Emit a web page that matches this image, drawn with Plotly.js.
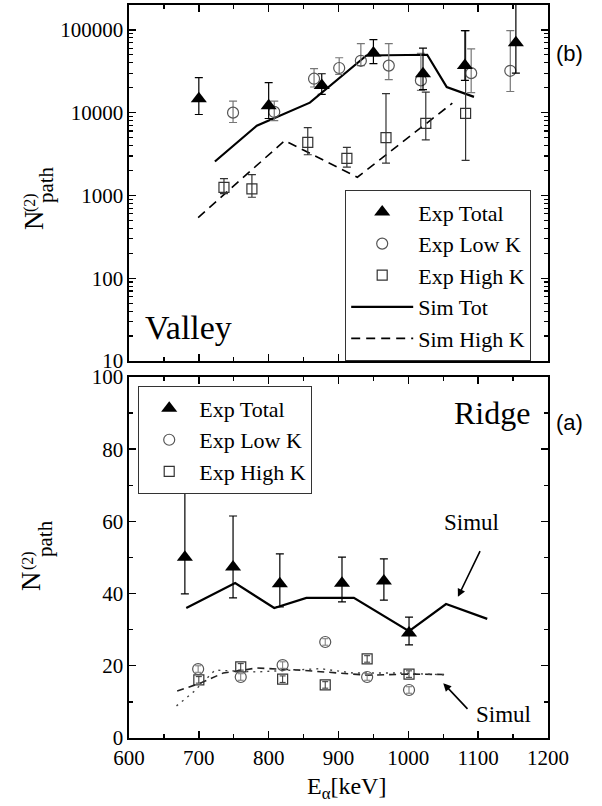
<!DOCTYPE html>
<html>
<head>
<meta charset="utf-8">
<script src="https://cdn.plot.ly/plotly-3.0.1.min.js"></script>
<style>html,body{margin:0;padding:0;background:#fff}</style>
</head>
<body>
<div id="chart" style="width:602px;height:806px"></div>
<script>
// ---- Valley panel (b), log scale ----
const valleyTotE  = [700, 800, 876, 950, 1021, 1081, 1154];
const valleyTot   = [14700, 12100, 21300, 52600, 29500, 37000, 70000];
const valleyTotHi = [26500, 23000, 29500, 76000, 60000, 98000, 250000];
const valleyTotLo = [9500, 8500, 16600, 39000, 19000, 24500, 30000];

const valleyLowE  = [749, 808, 865, 901, 932, 972, 1018, 1090, 1146];
const valleyLow   = [10000, 10200, 25700, 34600, 42300, 37000, 24500, 30000, 32000];
const valleyLowHi = [13800, 13800, 34000, 46000, 68000, 68000, 52000, 59000, 98000];
const valleyLowLo = [7600, 8000, 20400, 29000, 37000, 25000, 18600, 17400, 18000];

const valleyHighE  = [736, 776, 856, 912, 968, 1025, 1082];
const valleyHigh   = [1250, 1200, 4370, 2800, 5000, 7400, 9800];
const valleyHighHi = [1600, 1780, 6600, 3800, 17000, 17700, 98000];
const valleyHighLo = [1050, 950, 3100, 2200, 2450, 4700, 2650];

const valleySimTotE  = [723, 783, 859, 940, 1027, 1055, 1094];
const valleySimTot   = [2570, 6950, 13200, 49000, 50000, 20400, 15500];
const valleySimHighE = [699, 823, 927, 1063];
const valleySimHigh  = [540, 4600, 1660, 13000];

// ---- Ridge panel (a), linear scale ----
const ridgeTotE  = [680, 749, 816, 905, 965, 1001];
const ridgeTot   = [50.1, 47.4, 42.7, 42.9, 43.5, 29.1];
const ridgeTotHi = [69.3, 61.5, 51.0, 50.1, 49.6, 33.5];
const ridgeTotLo = [39.9, 38.8, 36.3, 37.7, 38.2, 25.8];

const ridgeLowE  = [699, 760, 820, 881, 941, 1001];
const ridgeLow   = [19.1, 16.9, 20.2, 26.6, 16.9, 13.3];
const ridgeHighE = [700, 760, 820, 881, 941, 1001];
const ridgeHigh  = [16.1, 19.7, 16.3, 14.7, 21.9, 17.7];
const ridgeKErr  = 0.9;

const ridgeSimTotE  = [682, 752, 808, 854, 922, 1001, 1054, 1113];
const ridgeSimTot   = [36.0, 42.9, 36.0, 38.8, 38.8, 29.6, 37.1, 33.0];
const ridgeSimHighE = [669, 702, 735, 783, 845, 884, 941, 1000, 1053];
const ridgeSimHigh  = [13.0, 15.2, 18.0, 19.4, 18.8, 18.3, 17.4, 17.7, 17.6];
const ridgeSimLowE  = [668, 692, 723, 783, 874, 921, 988, 1053];
const ridgeSimLow   = [8.9, 12.7, 18.8, 18.3, 19.2, 18.0, 18.0, 17.5];

const xTickVals = [600, 700, 800, 900, 1000, 1100, 1200];

const SERIF = '"Liberation Serif", "Times New Roman", Times, serif';
const SANS = '"Liberation Sans", Arial, sans-serif';

// asymmetric error bars from upper / lower bounds
function errs(vals, hi, lo, color, thick) {
  return {
    type: 'data', symmetric: false,
    array: vals.map((v, i) => hi[i] - v),
    arrayminus: vals.map((v, i) => v - lo[i]),
    color: color, thickness: thick, width: 4
  };
}

const triMarker = {symbol: 'triangle-up', size: 14, color: '#000', line: {width: 0}};
const circMarker = {symbol: 'circle-open', size: 11, color: '#555', line: {width: 1.2}};
const sqMarker = {symbol: 'square-open', size: 10, color: '#333', line: {width: 1.2}};

const traces = [
  // valley simulations
  {x: valleySimTotE, y: valleySimTot, xaxis: 'x2', yaxis: 'y2', mode: 'lines', name: 'Sim Tot',
   line: {color: '#000', width: 2.2}, legend: 'legend', legendrank: 4},
  {x: valleySimHighE, y: valleySimHigh, xaxis: 'x2', yaxis: 'y2', mode: 'lines', name: 'Sim High K',
   line: {color: '#000', width: 1.6, dash: '9px,6px'}, legend: 'legend', legendrank: 5},
  // valley experiment
  {x: valleyHighE, y: valleyHigh, xaxis: 'x2', yaxis: 'y2', mode: 'markers', name: 'Exp High K',
   marker: sqMarker, error_y: errs(valleyHigh, valleyHighHi, valleyHighLo, '#333', 1.2),
   legend: 'legend', legendrank: 3},
  {x: valleyLowE, y: valleyLow, xaxis: 'x2', yaxis: 'y2', mode: 'markers', name: 'Exp Low K',
   marker: circMarker, error_y: errs(valleyLow, valleyLowHi, valleyLowLo, '#777', 1.2),
   legend: 'legend', legendrank: 2},
  {x: valleyTotE, y: valleyTot, xaxis: 'x2', yaxis: 'y2', mode: 'markers', name: 'Exp Total',
   marker: triMarker, error_y: errs(valleyTot, valleyTotHi, valleyTotLo, '#000', 1.2),
   legend: 'legend', legendrank: 1},

  // ridge simulations
  {x: ridgeSimTotE, y: ridgeSimTot, xaxis: 'x', yaxis: 'y', mode: 'lines', showlegend: false,
   line: {color: '#000', width: 2.2}},
  {x: ridgeSimHighE, y: ridgeSimHigh, xaxis: 'x', yaxis: 'y', mode: 'lines', showlegend: false,
   line: {color: '#222', width: 1.6, dash: '7px,5px'}},
  {x: ridgeSimLowE, y: ridgeSimLow, xaxis: 'x', yaxis: 'y', mode: 'lines', showlegend: false,
   line: {color: '#444', width: 1.4, dash: '2px,5px'}},
  // ridge experiment
  {x: ridgeHighE, y: ridgeHigh, xaxis: 'x', yaxis: 'y', mode: 'markers', name: 'Exp High K',
   marker: sqMarker, error_y: {type: 'constant', value: ridgeKErr, color: '#333', thickness: 1, width: 3},
   legend: 'legend2', legendrank: 3},
  {x: ridgeLowE, y: ridgeLow, xaxis: 'x', yaxis: 'y', mode: 'markers', name: 'Exp Low K',
   marker: circMarker, error_y: {type: 'constant', value: ridgeKErr, color: '#777', thickness: 1, width: 3},
   legend: 'legend2', legendrank: 2},
  {x: ridgeTotE, y: ridgeTot, xaxis: 'x', yaxis: 'y', mode: 'markers', name: 'Exp Total',
   marker: triMarker, error_y: errs(ridgeTot, ridgeTotHi, ridgeTotLo, '#000', 1.2),
   legend: 'legend2', legendrank: 1}
];

const axisCommon = {
  showline: true, linecolor: '#000', linewidth: 1.6, mirror: 'ticks',
  ticks: 'inside', ticklen: 7, tickwidth: 1.4, tickcolor: '#000',
  showgrid: false, zeroline: false,
  tickfont: {family: SERIF, size: 21, color: '#000'}
};

const legendCommon = {
  xanchor: 'left', yanchor: 'top', bgcolor: '#fff', bordercolor: '#333', borderwidth: 1.2,
  font: {family: SERIF, size: 22, color: '#000'}, tracegroupgap: 0
};

// rotated y-axis label: N with (2) stacked over the "path" index
function yLabel(x, y, text, size) {
  return {xref: 'paper', yref: 'paper', x: x, y: y, text: text, showarrow: false, textangle: -90,
          font: {family: SERIF, size: size, color: '#000'}, xanchor: 'center', yanchor: 'middle'};
}

const layout = {
  width: 602, height: 806,
  margin: {l: 129, r: 54, t: 5, b: 68},
  paper_bgcolor: '#fff', plot_bgcolor: '#fff',
  font: {family: SERIF, color: '#000'},
  showlegend: true,
  xaxis: Object.assign({}, axisCommon, {
    domain: [0, 1], anchor: 'y', range: [600, 1200], tickvals: xTickVals,
    minor: {dtick: 50, ticks: 'inside', ticklen: 4, tickwidth: 1.4, tickcolor: '#000', showgrid: false}
  }),
  yaxis: Object.assign({}, axisCommon, {
    domain: [0, 0.4925], anchor: 'x', range: [0, 100], dtick: 20, tick0: 0,
    minor: {dtick: 10, ticks: 'inside', ticklen: 4, tickwidth: 1.4, tickcolor: '#000', showgrid: false}
  }),
  xaxis2: Object.assign({}, axisCommon, {
    domain: [0, 1], anchor: 'y2', range: [600, 1200], tickvals: xTickVals, matches: 'x',
    showticklabels: false,
    minor: {dtick: 50, ticks: 'inside', ticklen: 4, tickwidth: 1.4, tickcolor: '#000', showgrid: false}
  }),
  yaxis2: Object.assign({}, axisCommon, {
    domain: [0.5143, 1], anchor: 'x2', type: 'log', range: [1, 5.3], dtick: 1,
    tickformat: 'd',
    minor: {dtick: 'D1', ticks: 'inside', ticklen: 4, tickwidth: 1.2, tickcolor: '#000', showgrid: false}
  }),
  legend: Object.assign({}, legendCommon, {x: 0.5155, y: 0.7476, itemwidth: 62}),
  legend2: Object.assign({}, legendCommon, {x: 0.0215, y: 0.480, itemwidth: 50}),
  annotations: [
    {xref: 'paper', yref: 'paper', x: 0.518, y: -0.068, text: 'E<sub>α</sub>[keV]', showarrow: false,
     xanchor: 'center', yanchor: 'middle', font: {family: SERIF, size: 24, color: '#000'}},
    {xref: 'x2', yref: 'y2', x: 620, y: 1.41, text: 'Valley', showarrow: false, xanchor: 'left', yanchor: 'middle',
     font: {family: SERIF, size: 34, color: '#000'}},
    {xref: 'x', yref: 'y', x: 1177, y: 90, text: 'Ridge', showarrow: false, xanchor: 'right', yanchor: 'middle',
     font: {family: SERIF, size: 32, color: '#000'}},
    {xref: 'paper', yref: 'paper', x: 1.0525, y: 0.9345, text: '(b)', showarrow: false,
     xanchor: 'center', yanchor: 'middle', font: {family: SANS, size: 22, color: '#000'}},
    {xref: 'paper', yref: 'paper', x: 1.0525, y: 0.431, text: '(a)', showarrow: false,
     xanchor: 'center', yanchor: 'middle', font: {family: SANS, size: 22, color: '#000'}},
    {xref: 'x', yref: 'y', x: 1091, y: 59.6, text: 'Simul', showarrow: false,
     xanchor: 'center', yanchor: 'middle', font: {family: SERIF, size: 23, color: '#000'}},
    {xref: 'x', yref: 'y', x: 1136, y: 6.4, text: 'Simul', showarrow: false,
     xanchor: 'center', yanchor: 'middle', font: {family: SERIF, size: 23, color: '#000'}},
    {xref: 'x', yref: 'y', x: 1071, y: 39.1, axref: 'x', ayref: 'y', ax: 1107, ay: 53.5, text: ' ',
     showarrow: true, arrowhead: 2, arrowsize: 1, arrowwidth: 1.6, arrowcolor: '#000'},
    {xref: 'x', yref: 'y', x: 1050, y: 15.2, axref: 'x', ayref: 'y', ax: 1089, ay: 7.2, text: ' ',
     showarrow: true, arrowhead: 2, arrowsize: 1, arrowwidth: 1.6, arrowcolor: '#000'},
    yLabel(-0.2267, 0.7067, 'N', 27),
    yLabel(-0.2363, 0.7312, '(2)', 16),
    yLabel(-0.198, 0.7544, 'path', 21),
    yLabel(-0.2339, 0.2142, 'N', 27),
    yLabel(-0.241, 0.2415, '(2)', 16),
    yLabel(-0.2005, 0.2729, 'path', 21)
  ]
};

Plotly.newPlot('chart', traces, layout, {staticPlot: true, displayModeBar: false});
</script>
</body>
</html>
